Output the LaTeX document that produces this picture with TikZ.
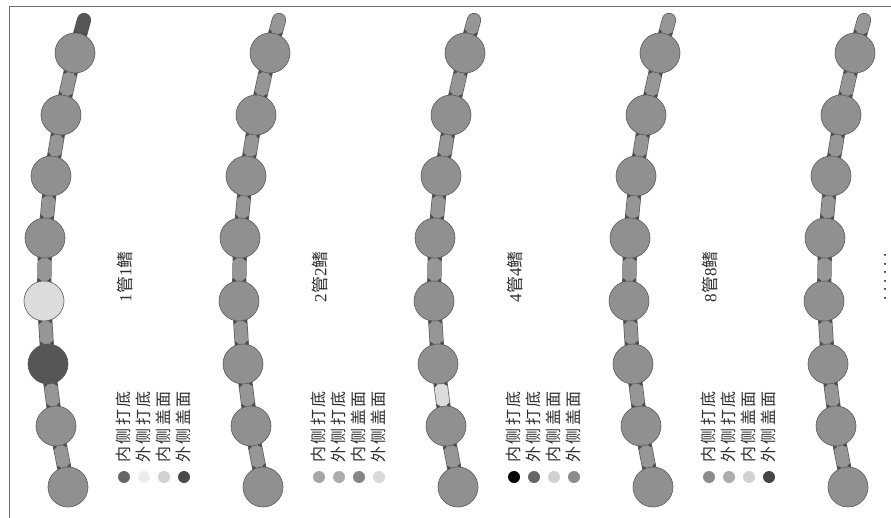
\documentclass[tikz,border=0pt]{standalone}
\usepackage{fontspec}
\setmainfont{Liberation Serif}
\newfontfamily\cjk{Noto Sans CJK SC}
\newfontfamily\cjksp{Noto Sans CJK SC}[LetterSpace=14]
\usepackage{tikz}
\usetikzlibrary{calc,backgrounds}
\definecolor{ballc}{HTML}{909090}
\definecolor{edgec}{HTML}{5A5A5A}
\definecolor{tubec}{HTML}{969696}
\definecolor{wedgec}{HTML}{4C4C4C}
\definecolor{lightc}{HTML}{DCDCDC}
\definecolor{darkc}{HTML}{565656}
\definecolor{framec}{HTML}{6E6E6E}
\definecolor{txtc}{HTML}{2E2E2E}
\tikzset{
  ball/.style={circle,draw=edgec,line width=0.6pt,fill=ballc,minimum size=40pt,inner sep=0pt},
  tubeo/.style={line width=14.2pt,draw=edgec,line cap=round},
  tubei/.style={line width=12.8pt,draw=tubec,line cap=round},
  wedge/.style={fill=wedgec},
  ttl/.style={font=\fontsize{17}{18}\selectfont,text=txtc,rotate=90,inner sep=0pt},
  lgd/.style={font=\cjksp\fontsize{16}{17}\selectfont,text=txtc,rotate=90,inner sep=0pt},
  dot/.style={circle,minimum size=12pt,inner sep=0pt},
}
% dark corners where a tube meets a ball
\newcommand{\wedgex}[2]{%
  \foreach \s in {90,-90}
    \fill[wedge] ($(#1)!17pt!(#2)!6.6pt!\s:(#2)$) -- ($(#1)!23pt!(#2)!6.6pt!\s:(#2)$) -- ($(#1)!20.5pt!(#2)!3.2pt!\s:(#2)$) -- cycle;}
% one chain of balls: name, x offset, light ball, dark ball, light tube, top tube colour
\newcommand{\chainx}[6]{%
  \foreach \x/\y [count=\k] in {75/53,61/115,51/176,45/238,44/301,48/364,56/426,68/487} {
    \tikzset{bst/.style={}}%
    \ifnum\k=#3 \tikzset{bst/.style={fill=lightc}}\fi
    \ifnum\k=#4 \tikzset{bst/.style={fill=darkc}}\fi
    \node[ball,bst] (#1-b\k) at (#2+\x,\y) {};}
  \coordinate (#1-top) at (#2+84,20);
  \begin{scope}[on background layer]
    \draw[tubeo] (#1-b1.center) -- (#1-top);
    \draw[tubei,draw=#6] (#1-b1.center) -- (#1-top);
    \wedgex{#1-b1.center}{#1-top}
    \foreach \a in {1,...,7} {
      \pgfmathtruncatemacro{\b}{\a+1}
      \tikzset{tst/.style={draw=tubec}}%
      \ifnum\a=#5 \tikzset{tst/.style={draw=lightc}}\fi
      \draw[tubeo] (#1-b\a.center) -- (#1-b\b.center);
      \draw[tubei,tst] (#1-b\a.center) -- (#1-b\b.center);
      \wedgex{#1-b\a.center}{#1-b\b.center}
      \wedgex{#1-b\b.center}{#1-b\a.center}}
  \end{scope}}
% title and legend: name, x offset, title, dot colours
\newcommand{\legendx}[4]{%
  \node[ttl] (#1-t) at (#2+125,277) {#3};
  \foreach \w [count=\k from 0] in {内侧打底,外侧打底,内侧盖面,外侧盖面}
    \node[lgd] (#1-l\k) at (#2+123+\k*20,427) {\w};
  \foreach \c [count=\k from 0] in {#4}
    \node[dot,fill=\c] (#1-d\k) at (#2+124+\k*20,477) {};}

\begin{document}
\begin{tikzpicture}[x=1pt,y=-1pt]
  \useasboundingbox (0,0) rectangle (891,518);
  \draw[framec,line width=1pt] (9,518) -- (9,7) -- (891,7);
  \chainx{s1}{0}{5}{6}{0}{darkc}
  \chainx{s2}{195}{0}{0}{0}{tubec}
  \chainx{s3}{390}{0}{0}{6}{tubec}
  \chainx{s4}{585}{0}{0}{0}{tubec}
  \chainx{s5}{780}{0}{0}{0}{tubec}
  \legendx{s1}{0}{1{\cjk 管}1{\cjk 鳍}}{black!60,black!7,black!18,black!71}
  \legendx{s2}{195}{2{\cjk 管}2{\cjk 鳍}}{black!35,black!32,black!48,black!15}
  \legendx{s3}{390}{4{\cjk 管}4{\cjk 鳍}}{black,black!60,black!18,black!45}
  \legendx{s4}{585}{8{\cjk 管}8{\cjk 鳍}}{black!45,black!32,black!18,black!73}
  \node[ttl] (more) at (885,277) {.\ .\ .\ .\ .\ .};
\end{tikzpicture}
\end{document}
